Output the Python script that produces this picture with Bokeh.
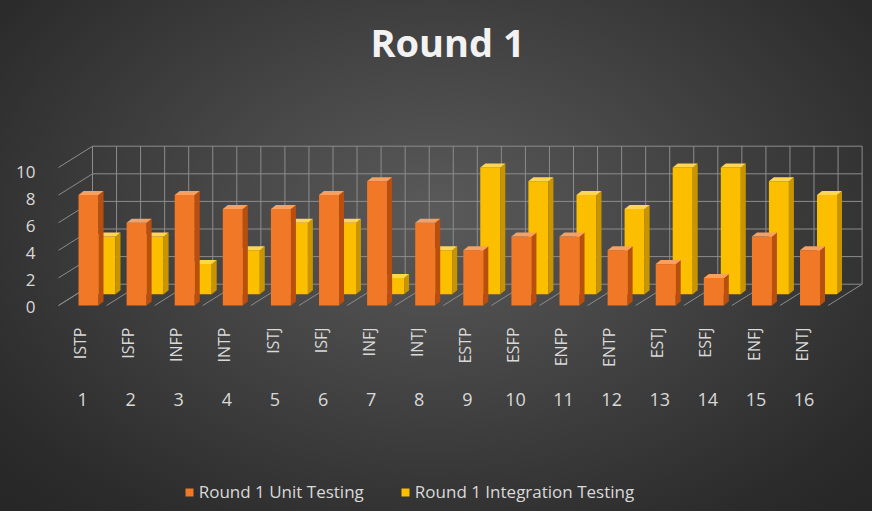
import math
from bokeh.plotting import figure
from bokeh.models import Range1d, LinearAxis, FixedTicker, Legend, LegendItem
from bokeh.embed import file_html
from bokeh.resources import INLINE

# ---------------- data ----------------
types = ["ISTP", "ISFP", "INFP", "INTP", "ISTJ", "ISFJ", "INFJ", "INTJ",
         "ESTP", "ESFP", "ENFP", "ENTP", "ESTJ", "ESFJ", "ENFJ", "ENTJ"]
numbers = ["1", "2", "3", "4", "5", "6", "7", "8",
           "9", "10", "11", "12", "13", "14", "15", "16"]
unit_testing = [8, 6, 8, 7, 7, 8, 9, 6, 4, 5, 5, 4, 3, 2, 5, 4]
integration_testing = [5, 5, 3, 4, 6, 6, 2, 4, 10, 9, 8, 7, 10, 10, 9, 8]
y_ticks = [0, 2, 4, 6, 8, 10]

# ---------------- geometry / style ----------------
X0, X1 = -0.2495, 16.923
Y0, Y1 = -14.928, 16.449
DX, DY = 0.707, 1.543          # depth offset of back wall (data units)
O_OFF, BAR_W = 0.416, 0.416    # orange bar offset/width inside category
Y_OFF = 0.353                  # yellow row shift
SD, TD = 0.104, 0.29           # bar side depth / top depth
Y_BASE = 0.82                  # visible base of back row
TYPES_AXIS_AT = -0.3623
NUMS_AXIS_AT = -5.217
GRID = "#8c8c8c"
TXT = "#d9d9d9"
FONT = "Open Sans"

p = figure(width=872, height=511, x_range=Range1d(X0, X1), y_range=Range1d(Y0, Y1),
           output_backend="svg", toolbar_location=None,
           x_axis_type=None, y_axis_type=None,
           min_border_left=46, min_border_right=0, min_border_top=78, min_border_bottom=0)
p.background_fill_alpha = 0
p.border_fill_alpha = 0
p.outline_line_color = None
p.styles = {"background-image": "radial-gradient(ellipse farthest-corner at 50% 42%, #5a5a5a 0%, #474747 35%, #2b2b2b 85%, #262626 100%)"}

# ---------------- 3D frame ----------------
n = len(types)
p.segment(x0=[DX] * len(y_ticks), y0=[v + DY for v in y_ticks],
          x1=[n + DX] * len(y_ticks), y1=[v + DY for v in y_ticks], line_color=GRID, line_width=1)
vx = [DX + j * 0.5 for j in range(2 * n + 1)]
p.segment(x0=vx, y0=[DY] * len(vx), x1=vx, y1=[y_ticks[-1] + DY] * len(vx), line_color=GRID, line_width=1)
p.segment(x0=[0] * len(y_ticks), y0=y_ticks, x1=[DX] * len(y_ticks),
          y1=[v + DY for v in y_ticks], line_color=GRID, line_width=1)
fx = list(range(n + 1))
p.segment(x0=fx, y0=[0] * len(fx), x1=[k + DX for k in fx], y1=[DY] * len(fx), line_color=GRID, line_width=1)


def bars(values, off, base, front, side, top):
    left = [k + off for k in range(n)]
    right = [l + BAR_W for l in left]
    r = p.quad(left=left, right=right, bottom=[base] * n, top=values,
               fill_color=front, line_color=None)
    sxs = [[rr, rr + SD, rr + SD, rr] for rr in right]
    sys = [[base, base + TD, v + TD, v] for v in values]
    p.patches(sxs, sys, fill_color=side, line_color=None)
    txs = [[l, rr, rr + SD, l + SD] for l, rr in zip(left, right)]
    tys = [[v, v, v + TD, v + TD] for v in values]
    p.patches(txs, tys, fill_color=top, line_color=None)
    return r


y_front = bars(integration_testing, O_OFF + Y_OFF, Y_BASE, "#fcbf00", "#c89400", "#ffd650")
o_front = bars(unit_testing, O_OFF, 0, "#f07826", "#b84f0e", "#f8a062")

# ---------------- axes ----------------
p.extra_y_ranges = {"ylab": Range1d(-15.078, 16.925)}
yax = LinearAxis(y_range_name="ylab", ticker=FixedTicker(ticks=y_ticks, minor_ticks=[]),
                 axis_line_color=None, major_tick_line_color=None, minor_tick_line_color=None,
                 major_tick_out=0, major_tick_in=0,
                 major_label_text_color=TXT, major_label_text_font=FONT,
                 major_label_text_font_size="17px", major_label_standoff=11)
p.add_layout(yax, "left")

p.extra_x_ranges = {"types": Range1d(X0 - 0.45, X1 - 0.45), "nums": Range1d(X0 - 0.5, X1 - 0.5)}
tax = LinearAxis(x_range_name="types", ticker=FixedTicker(ticks=list(range(n)), minor_ticks=[]),
                 fixed_location=TYPES_AXIS_AT,
                 major_label_overrides={i: t for i, t in enumerate(types)},
                 major_label_orientation=math.pi / 2,
                 axis_line_color=None, major_tick_line_color=None, minor_tick_line_color=None,
                 major_tick_out=0, major_tick_in=0,
                 major_label_text_color=TXT, major_label_text_font=FONT,
                 major_label_text_font_size="16px", major_label_standoff=17)
p.add_layout(tax, "below")
nax = LinearAxis(x_range_name="nums", ticker=FixedTicker(ticks=list(range(n)), minor_ticks=[]),
                 fixed_location=NUMS_AXIS_AT,
                 major_label_overrides={i: t for i, t in enumerate(numbers)},
                 axis_line_color=None, major_tick_line_color=None, minor_tick_line_color=None,
                 major_tick_out=0, major_tick_in=0,
                 major_label_text_color=TXT, major_label_text_font=FONT,
                 major_label_text_font_size="18px", major_label_standoff=16)
p.add_layout(nax, "below")

# ---------------- title ----------------
p.title.text = "Round 1"
p.title.align = "left"
p.title.offset = 324
p.title.text_font = FONT
p.title.text_font_style = "bold"
p.title.text_font_size = "38px"
p.title.text_color = "#f2f2f2"
p.title.standoff = 22

# ---------------- legend ----------------
legend = Legend(items=[LegendItem(label="Round 1 Unit Testing", renderers=[o_front]),
                       LegendItem(label="Round 1 Integration Testing", renderers=[y_front])],
                location=(137.7, 8), orientation="horizontal",
                background_fill_alpha=0, border_line_color=None,
                label_text_color=TXT, label_text_font=FONT, label_text_font_size="17px",
                glyph_width=10, glyph_height=10, label_standoff=5, spacing=36,
                padding=0, margin=0)
p.add_layout(legend)

open("out.html", "w").write(file_html(p, INLINE))
